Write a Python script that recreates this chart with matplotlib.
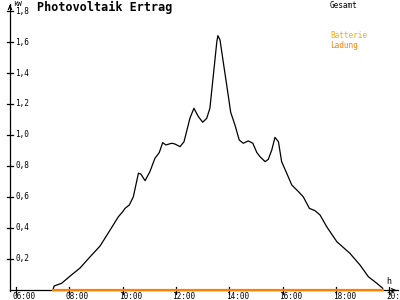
import matplotlib
matplotlib.use("Agg")
import matplotlib.pyplot as plt

# data (hours, kW)
hours = [7.39, 7.43, 7.71, 8.03, 8.40, 8.78, 9.15, 9.53, 9.84, 10.00, 10.09, 10.25,
         10.40, 10.59, 10.68, 10.84, 11.02, 11.21, 11.37, 11.50, 11.62, 11.84, 11.96,
         12.15, 12.30, 12.52, 12.67, 12.84, 13.00, 13.15, 13.27, 13.40, 13.53, 13.57,
         13.65, 13.77, 13.90, 14.05, 14.21, 14.37, 14.52, 14.71, 14.88, 15.03, 15.15,
         15.34, 15.46, 15.59, 15.71, 15.84, 15.96, 16.15, 16.34, 16.59, 16.77, 17.00,
         17.21, 17.40, 17.65, 18.03, 18.52, 18.90, 19.21, 19.53, 19.75]
gesamt = [0.0, 0.023, 0.040, 0.087, 0.139, 0.212, 0.281, 0.385, 0.471, 0.503, 0.525, 0.547,
          0.600, 0.752, 0.747, 0.704, 0.762, 0.849, 0.885, 0.950, 0.935, 0.946, 0.941,
          0.924, 0.956, 1.107, 1.172, 1.118, 1.082, 1.107, 1.172, 1.387, 1.603, 1.642,
          1.614, 1.473, 1.323, 1.146, 1.064, 0.967, 0.946, 0.961, 0.946, 0.886, 0.859,
          0.827, 0.842, 0.902, 0.984, 0.956, 0.827, 0.752, 0.676, 0.633, 0.600, 0.525,
          0.510, 0.482, 0.406, 0.309, 0.234, 0.158, 0.083, 0.040, 0.008]
batt_hours = [7.39, 19.75]
batt_ladung = [0.0, 0.0]

xticks = [6, 8, 10, 12, 14, 16, 18, 20]
xlabels = ["06:00", "08:00", "10:00", "12:00", "14:00", "16:00", "18:00", "20:00"]
yticks = [0.2, 0.4, 0.6, 0.8, 1.0, 1.2, 1.4, 1.6, 1.8]
ylabels = ["0,2", "0,4", "0,6", "0,8", "1,0", "1,2", "1,4", "1,6", "1,8"]

W, H = 400, 300
fig = plt.figure(figsize=(4, 3), dpi=100)
fig.patch.set_facecolor("white")

# pixel mapping
px_per_h = 26.67
x6 = 16.0
y0 = 289.5
px_per_kw = 154.6
left_px, right_px, top_px, bot_px = 10, 399, 2, 291
ax = fig.add_axes([left_px / W, 1 - bot_px / H, (right_px - left_px) / W, (bot_px - top_px) / H])
ax.set_xlim(6 + (left_px - x6) / px_per_h, 6 + (right_px - x6) / px_per_h)
ax.set_ylim((y0 - bot_px) / px_per_kw, (y0 - top_px) / px_per_kw)
for s in ax.spines.values():
    s.set_visible(False)
ax.set_xticks([])
ax.set_yticks([])
ax.patch.set_alpha(0)

xmin, xmax = ax.get_xlim()
ymin, ymax = ax.get_ylim()
mono = "DejaVu Sans Mono"

# axes lines
zero = (y0 - 290.3) / px_per_kw
ax.plot([xmin, xmax - 0.05], [zero, zero], color="black", lw=0.9, clip_on=False, zorder=2)
ax.plot([xmin, xmin], [ymin, ymax - 0.01], color="black", lw=0.9, clip_on=False, zorder=2)
ax.annotate("", xy=(xmax, zero), xytext=(xmax - 0.3, zero),
            arrowprops=dict(arrowstyle="->", color="black", lw=0.9, mutation_scale=6),
            annotation_clip=False)
ax.annotate("", xy=(xmin, ymax), xytext=(xmin, ymax - 0.05),
            arrowprops=dict(arrowstyle="->", color="black", lw=0.9, mutation_scale=6),
            annotation_clip=False)

# ticks
dy = 3.5 / px_per_kw
dx = 3 / px_per_h
for t, lab in zip(xticks, xlabels):
    ax.plot([t, t], [zero - dy, zero + dy], color="black", lw=0.9, clip_on=False)
    ax.text(t - 3.5 / px_per_h, zero - 6 / px_per_kw, lab, ha="left", va="center",
            fontsize=5.6, family=mono, clip_on=False)
for t, lab in zip(yticks, ylabels):
    ax.plot([xmin - dx, xmin + dx], [t, t], color="black", lw=0.9, clip_on=False)
    ax.text(xmin + 5 / px_per_h, t, lab, ha="left", va="center",
            fontsize=5.6, family=mono, clip_on=False)

# series
ax.plot(hours, gesamt, color="black", lw=0.9, zorder=3)
ax.plot(batt_hours, batt_ladung, color="#ff8000", lw=1.6, zorder=4, clip_on=False)

# texts
fig.text(37 / W, 1 - 7 / H, "Photovoltaik Ertrag", ha="left", va="center",
         fontsize=8.5, fontweight="bold", family=mono)
fig.text(13 / W, 1 - 4 / H, "kW", ha="left", va="center", fontsize=5.2, family=mono)
fig.text(330 / W, 1 - 5 / H, "Gesamt", ha="left", va="center", fontsize=5.6, family=mono)
fig.text(330 / W, 1 - 36 / H, "Batterie", ha="left", va="center", fontsize=5.6,
         family=mono, color="#ffaa00")
fig.text(330 / W, 1 - 45 / H, "Ladung", ha="left", va="center", fontsize=5.6,
         family=mono, color="#ff8000")
fig.text(386 / W, 1 - 281 / H, "h", ha="left", va="center", fontsize=6, family=mono)

fig.savefig("out.png", dpi=100)
